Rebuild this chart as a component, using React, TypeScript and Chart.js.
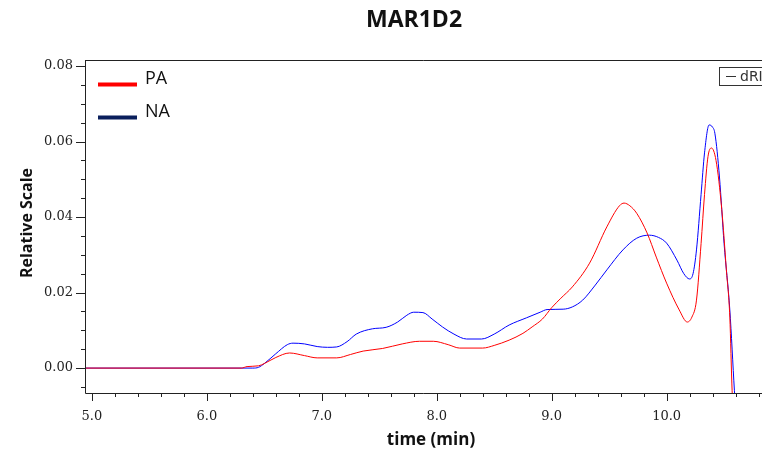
import React, { useEffect, useRef } from "react";
import { Chart, registerables } from "chart.js";

Chart.register(...registerables);

const chartTitle = "MAR1D2";
const xTitle = "time (min)";
const yTitle = "Relative Scale";
const seriesNames = ["PA", "NA"];

const paTimes = [4.94, 6.3, 6.35, 6.45, 6.5, 6.6, 6.72, 6.85, 6.96, 7.13, 7.25, 7.36, 7.53, 7.7, 7.85, 7.97, 8.1, 8.2, 8.4, 8.5, 8.63, 8.75, 8.83, 8.92, 9.0, 9.08, 9.18, 9.33, 9.48, 9.59, 9.63, 9.68, 9.74, 9.83, 9.91, 10.0, 10.11, 10.18, 10.22, 10.26, 10.3, 10.33, 10.36, 10.39, 10.43, 10.48, 10.52, 10.55, 10.57, 10.62];
const paValues = [0, 0, 0.0004, 0.0006, 0.0012, 0.0028, 0.004, 0.0033, 0.0027, 0.0027, 0.0036, 0.0045, 0.0052, 0.0064, 0.0071, 0.0071, 0.0062, 0.0053, 0.0053, 0.006, 0.0074, 0.0092, 0.0109, 0.013, 0.016, 0.0185, 0.0215, 0.0278, 0.0374, 0.043, 0.0437, 0.043, 0.041, 0.0358, 0.0294, 0.0225, 0.0154, 0.0122, 0.0135, 0.018, 0.033, 0.046, 0.056, 0.0583, 0.055, 0.042, 0.026, 0.0135, -0.006, -0.03];

const naTimes = [4.94, 6.4, 6.45, 6.5, 6.6, 6.7, 6.75, 6.85, 6.96, 7.05, 7.13, 7.22, 7.3, 7.44, 7.56, 7.66, 7.74, 7.8, 7.88, 7.96, 8.05, 8.15, 8.26, 8.39, 8.5, 8.63, 8.78, 8.9, 8.96, 9.1, 9.18, 9.27, 9.38, 9.48, 9.62, 9.74, 9.85, 9.93, 10.0, 10.09, 10.15, 10.2, 10.23, 10.26, 10.3, 10.33, 10.37, 10.4, 10.42, 10.46, 10.5, 10.55, 10.59, 10.64];
const naValues = [0, 0, 0.0002, 0.0012, 0.0038, 0.0062, 0.0066, 0.0064, 0.0057, 0.0055, 0.0056, 0.007, 0.009, 0.0104, 0.0108, 0.0122, 0.014, 0.0148, 0.0147, 0.013, 0.0109, 0.009, 0.0077, 0.0077, 0.009, 0.0114, 0.0133, 0.0148, 0.0155, 0.0156, 0.0162, 0.018, 0.022, 0.026, 0.0313, 0.0344, 0.0352, 0.0346, 0.0331, 0.0286, 0.025, 0.0236, 0.025, 0.0313, 0.046, 0.057, 0.0644, 0.0638, 0.0622, 0.0506, 0.033, 0.0154, -0.006, -0.03];

const xMajorTicks = [5, 6, 7, 8, 9, 10];
const yMajorTicks = [0, 0.02, 0.04, 0.06, 0.08];

const X_MIN = 4.94;
const X_MAX = 10.83;
const Y_MIN = -0.0066;
const Y_MAX = 0.0816;

const decorPlugin = {
  id: "decor",
  afterDraw(chart: any) {
    const ctx = chart.ctx as CanvasRenderingContext2D;
    const { left, right, top, bottom } = chart.chartArea;
    const xs = chart.scales.x;
    const ys = chart.scales.y;
    ctx.save();
    ctx.strokeStyle = "#222";
    ctx.lineWidth = 1;
    // frame
    ctx.beginPath();
    ctx.moveTo(left + 0.5, top + 0.5);
    ctx.lineTo(right, top + 0.5);
    ctx.moveTo(left + 0.5, top);
    ctx.lineTo(left + 0.5, bottom + 0.5);
    ctx.lineTo(right, bottom + 0.5);
    ctx.stroke();
    // x ticks
    ctx.beginPath();
    for (let i = 0; ; i++) {
      const v = 4.8 + i * 0.2;
      if (v > X_MAX) break;
      if (v < X_MIN) continue;
      const px = Math.round(xs.getPixelForValue(v)) + 0.5;
      const major = xMajorTicks.some((m) => Math.abs(m - v) < 1e-6);
      ctx.moveTo(px, bottom);
      ctx.lineTo(px, bottom + (major ? 8 : 4));
    }
    // y ticks
    for (let i = 0; ; i++) {
      const v = -0.005 + i * 0.005;
      if (v > Y_MAX) break;
      if (v < Y_MIN) continue;
      const py = Math.round(ys.getPixelForValue(v)) + 0.5;
      const major = yMajorTicks.some((m) => Math.abs(m - v) < 1e-9);
      ctx.moveTo(left, py);
      ctx.lineTo(left - (major ? 9 : 4), py);
    }
    ctx.stroke();
    // tick labels
    ctx.fillStyle = "#222";
    ctx.font = "13px 'DejaVu Serif', 'Liberation Serif', serif";
    ctx.textAlign = "center";
    ctx.textBaseline = "middle";
    xMajorTicks.forEach((v) => {
      ctx.fillText(v.toFixed(1), xs.getPixelForValue(v), bottom + 24);
    });
    ctx.textAlign = "right";
    yMajorTicks.forEach((v) => {
      ctx.fillText(v.toFixed(2), left - 12, ys.getPixelForValue(v));
    });
    // axis titles
    ctx.fillStyle = "#111";
    ctx.font = "bold 17px 'Open Sans'";
    ctx.textAlign = "center";
    ctx.fillText(xTitle, 431, 440);
    ctx.save();
    ctx.translate(27, 223);
    ctx.rotate(-Math.PI / 2);
    ctx.font = "bold 16px 'Open Sans'";
    ctx.fillText(yTitle, 0, 0);
    ctx.restore();
    // title
    ctx.font = "bold 23px 'Open Sans'";
    ctx.fillText(chartTitle, 414, 20);
    // legend
    const legendColors = ["#ff0000", "#0a1f5c"];
    ctx.font = "18px 'Open Sans'";
    ctx.textAlign = "left";
    seriesNames.forEach((name, i) => {
      const ly = 84.5 + i * 33;
      ctx.fillStyle = legendColors[i];
      ctx.fillRect(98, ly - 2, 39, 4);
      ctx.fillStyle = "#111";
      ctx.fillText(name, 145, ly - 6);
    });
    // dRI box
    ctx.strokeStyle = "#333";
    ctx.strokeRect(719.5, 67.5, 60, 18);
    ctx.beginPath();
    ctx.moveTo(726, 76.5);
    ctx.lineTo(736, 76.5);
    ctx.stroke();
    ctx.fillStyle = "#333";
    ctx.font = "14px 'DejaVu Sans'";
    ctx.fillText("dRI", 740, 77);
    ctx.restore();
  },
};

export default function App() {
  const ref = useRef<HTMLCanvasElement | null>(null);
  useEffect(() => {
    document.body.style.margin = "0";
    if (!ref.current) return;
    const chart = new Chart(ref.current, {
      type: "line",
      data: {
        datasets: [
          {
            label: seriesNames[0],
            data: paTimes.map((t, i) => ({ x: t, y: paValues[i] })),
            borderColor: "#ff0000",
            borderWidth: 1,
            pointRadius: 0,
            cubicInterpolationMode: "monotone",
            fill: false,
          },
          {
            label: seriesNames[1],
            data: naTimes.map((t, i) => ({ x: t, y: naValues[i] })),
            borderColor: "#0000ff",
            borderWidth: 1,
            pointRadius: 0,
            cubicInterpolationMode: "monotone",
            fill: false,
          },
        ],
      },
      options: {
        animation: false,
        responsive: false,
        maintainAspectRatio: false,
        layout: { padding: { left: 85, top: 60, right: 0, bottom: 57 } },
        plugins: { legend: { display: false }, tooltip: { enabled: false }, title: { display: false } },
        scales: {
          x: { type: "linear", min: X_MIN, max: X_MAX, display: false },
          y: { type: "linear", min: Y_MIN, max: Y_MAX, display: false },
        },
      },
      plugins: [decorPlugin],
    });
    return () => chart.destroy();
  }, []);
  return (
    <div style={{ width: 762, height: 450, background: "#fff" }}>
      <canvas ref={ref} width={762} height={450} style={{ display: "block" }} />
    </div>
  );
}
